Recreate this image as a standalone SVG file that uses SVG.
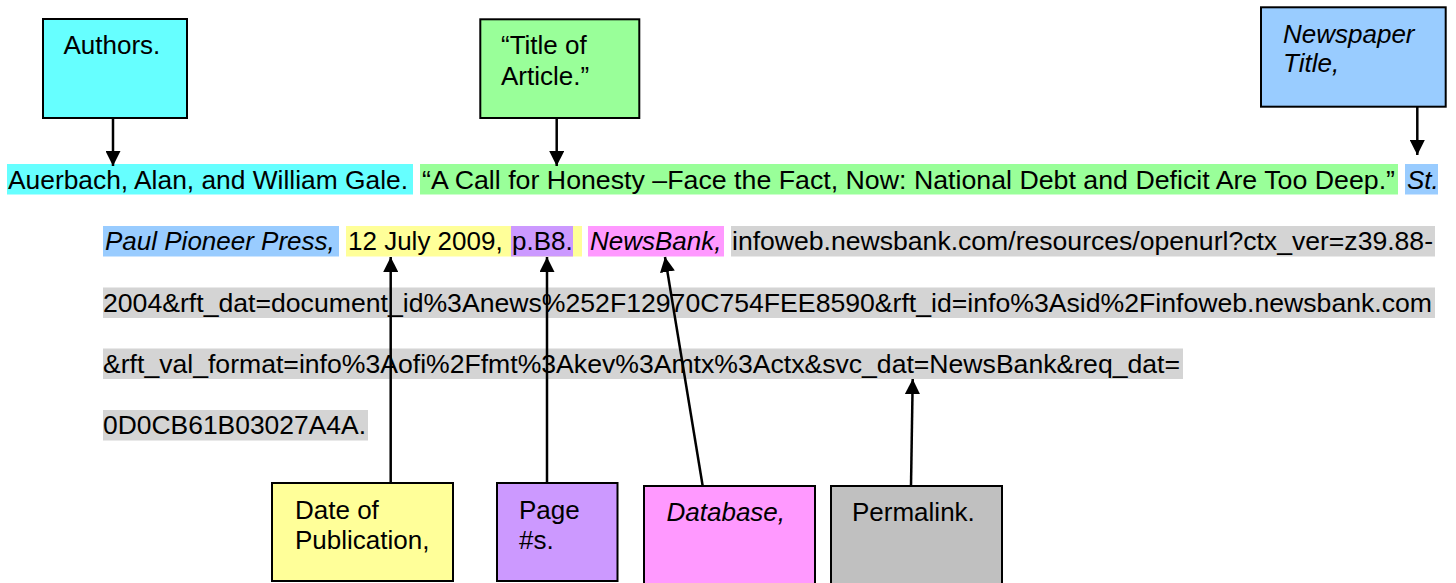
<svg xmlns="http://www.w3.org/2000/svg" width="1456" height="583" viewBox="0 0 1456 583">
<defs>
<style>
text{font-family:"Liberation Sans",Arial,sans-serif;font-size:26px;fill:#000}
.it{font-style:italic}
.box{stroke:#000;stroke-width:2}
.hl-cyan{fill:#66FFFF}.hl-green{fill:#99FF99}.hl-blue{fill:#99CCFF}.hl-yellow{fill:#FFFF99}.hl-purple{fill:#CC99FF}.hl-pink{fill:#FF99FF}.hl-gray{fill:#D4D4D4}
.conn{stroke:#000;stroke-width:2.5;fill:none;marker-end:url(#ah)}
</style>
<marker id="ah" viewBox="0 0 10 10" refX="10" refY="5" markerWidth="6" markerHeight="6" markerUnits="strokeWidth" orient="auto">
<path d="M0,0 L10,5 L0,10 z" fill="#000"/>
</marker>
</defs>
<rect width="1456" height="583" fill="#fff"/>
<g id="citation">
<rect class="hl-cyan" x="7" y="164" width="406" height="30.5"/>
<rect class="hl-green" x="420" y="164" width="978" height="30.5"/>
<rect class="hl-blue" x="1405" y="164" width="33" height="30.5"/>
<rect class="hl-blue" x="103" y="226" width="236" height="30.5"/>
<rect class="hl-yellow" x="346" y="226" width="236" height="30.5"/>
<rect class="hl-purple" x="511" y="226" width="62" height="30.5"/>
<rect class="hl-pink" x="588" y="226" width="136" height="30.5"/>
<rect class="hl-gray" x="731" y="226" width="704" height="30.5"/>
<rect class="hl-gray" x="103" y="287.5" width="1332" height="30.5"/>
<rect class="hl-gray" x="103" y="348.5" width="1080" height="30.5"/>
<rect class="hl-gray" x="103" y="410" width="265" height="30.5"/>
<text x="8" y="188.5" textLength="400" lengthAdjust="spacingAndGlyphs">Auerbach, Alan, and William Gale.</text>
<text x="422" y="188.5" textLength="973" lengthAdjust="spacingAndGlyphs">“A Call for Honesty –Face the Fact, Now: National Debt and Deficit Are Too Deep.”</text>
<text class="it" x="1407" y="188.5">St.</text>
<text class="it" x="105" y="250">Paul Pioneer Press,</text>
<text x="348" y="250">12 July 2009,</text>
<text x="512" y="250">p.B8.</text>
<text class="it" x="590" y="250">NewsBank,</text>
<text x="732" y="250" textLength="701" lengthAdjust="spacingAndGlyphs">infoweb.newsbank.com/resources/openurl?ctx_ver=z39.88-</text>
<text x="103" y="311.5" textLength="1329" lengthAdjust="spacingAndGlyphs">2004&amp;rft_dat=document_id%3Anews%252F12970C754FEE8590&amp;rft_id=info%3Asid%2Finfoweb.newsbank.com</text>
<text x="103" y="372.5" textLength="1077" lengthAdjust="spacingAndGlyphs">&amp;rft_val_format=info%3Aofi%2Ffmt%3Akev%3Amtx%3Actx&amp;svc_dat=NewsBank&amp;req_dat=</text>
<text x="103" y="434" textLength="263" lengthAdjust="spacingAndGlyphs">0D0CB61B03027A4A.</text>
</g>
<g id="connectors">
<line class="conn" x1="113" y1="118" x2="113" y2="166"/>
<line class="conn" x1="556.7" y1="118" x2="556.7" y2="166"/>
<line class="conn" x1="1417.3" y1="107" x2="1417.3" y2="155"/>
<line class="conn" x1="390.7" y1="483" x2="390.7" y2="257"/>
<line class="conn" x1="547" y1="483" x2="547" y2="257"/>
<line class="conn" x1="702.7" y1="486" x2="665" y2="257"/>
<line class="conn" x1="911" y1="486" x2="912.7" y2="379"/>
</g>
<g id="authors">
<rect class="box hl-cyan" x="43" y="19" width="144" height="99"/>
<text x="63.5" y="54">Authors.</text>
</g>
<g id="title">
<rect class="box hl-green" x="480.3" y="19.3" width="159" height="98.7"/>
<text x="501" y="54">“Title of</text>
<text x="501" y="85">Article.”</text>
</g>
<g id="newspaper">
<rect class="box hl-blue" x="1261" y="7.3" width="184.7" height="99.4"/>
<text class="it" x="1283" y="42.5">Newspaper</text>
<text class="it" x="1283" y="72">Title,</text>
</g>
<g id="date">
<rect class="box hl-yellow" x="272" y="483" width="181" height="98"/>
<text x="295" y="519">Date of</text>
<text x="295" y="549">Publication,</text>
</g>
<g id="page">
<rect class="box hl-purple" x="497" y="483" width="120.5" height="98"/>
<text x="519" y="519">Page</text>
<text x="519" y="549">#s.</text>
</g>
<g id="database">
<rect class="box hl-pink" x="644" y="486" width="171" height="100"/>
<text class="it" x="666.5" y="521">Database,</text>
</g>
<g id="permalink">
<rect class="box" fill="#C0C0C0" x="831" y="486" width="171" height="100"/>
<text x="852" y="521">Permalink.</text>
</g>
</svg>
